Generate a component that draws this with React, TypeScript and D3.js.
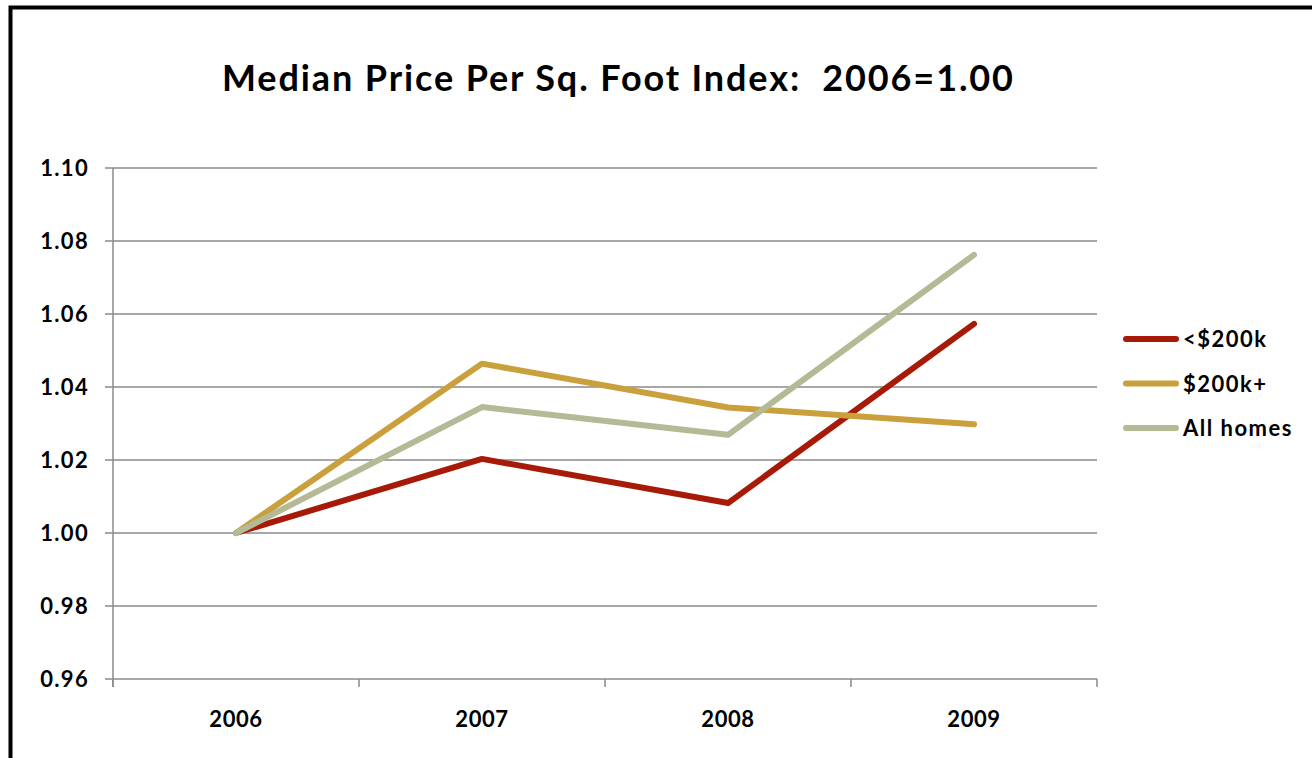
import React from 'react';
import * as d3 from 'd3';

// chart data
const years = ['2006', '2007', '2008', '2009'];
const under200k = [1.0, 1.0203, 1.0082, 1.0573];
const over200k = [1.0, 1.0464, 1.0344, 1.0298];
const allHomes = [1.0, 1.0345, 1.0269, 1.0762];
const yTicks = [0.96, 0.98, 1.0, 1.02, 1.04, 1.06, 1.08, 1.1];

const series = [
  { name: '<$200k', values: under200k, color: '#a81a08' },
  { name: '$200k+', values: over200k, color: '#c9a03c' },
  { name: 'All homes', values: allHomes, color: '#b4ba96' },
];

const W = 1312;
const H = 758;
const font = 'Lato, "Open Sans", sans-serif';

const App = () => {
  // plot area
  const left = 113;
  const right = 1097;
  const top = 168;
  const bottom = 679;

  const x = d3.scaleBand<string>().domain(years).range([left, right]);
  const y = d3.scaleLinear().domain([0.96, 1.1]).range([bottom, top]);

  const line = d3
    .line<number>()
    .x((_, i) => (x(years[i]) as number) + x.bandwidth() / 2)
    .y(d => y(d));

  const bounds = [left, ...years.map(yr => (x(yr) as number) + x.bandwidth())];

  return (
    <svg
      width={W}
      height={H}
      style={{ position: 'absolute', left: 0, top: 0, background: '#fff' }}
    >
      {/* frame */}
      <rect x={10.5} y={7.5} width={W + 20} height={H + 20} fill="none" stroke="#000" strokeWidth={4} />

      <text
        x={222}
        y={91}
        textLength={791}
        lengthAdjust="spacing"
        fontFamily={font}
        fontWeight={700}
        fontSize={36}
        fill="#000"
      >
        Median Price Per Sq. Foot Index:{'\u00a0\u00a0'}2006=1.00
      </text>

      {/* grid + y ticks */}
      {yTicks.map(t => (
        <g key={t}>
          <line x1={105} x2={right} y1={y(t)} y2={y(t)} stroke="#8a8a8a" strokeWidth={1.5} />
          <text
            x={89}
            y={y(t) + 8}
            textAnchor="end"
            fontFamily={font}
            fontWeight={700}
            fontSize={22}
            letterSpacing={1.3}
            fill="#000"
          >
            {t.toFixed(2)}
          </text>
        </g>
      ))}

      {/* y axis */}
      <line x1={left} x2={left} y1={top} y2={bottom + 8} stroke="#8a8a8a" strokeWidth={1.5} />

      {/* x ticks */}
      {bounds.map((b, i) => (
        <line key={i} x1={b} x2={b} y1={bottom} y2={bottom + 8} stroke="#8a8a8a" strokeWidth={1.5} />
      ))}
      {years.map(yr => (
        <text
          key={yr}
          x={(x(yr) as number) + x.bandwidth() / 2}
          y={727}
          textAnchor="middle"
          fontFamily={font}
          fontWeight={700}
          fontSize={22}
          letterSpacing={0.6}
          fill="#000"
        >
          {yr}
        </text>
      ))}

      {/* lines */}
      {series.map(s => (
        <path
          key={s.name}
          d={line(s.values) as string}
          fill="none"
          stroke={s.color}
          strokeWidth={6}
          strokeLinejoin="round"
          strokeLinecap="round"
        />
      ))}

      {/* legend */}
      {series.map((s, i) => {
        const ly = 339 + i * 44.5;
        return (
          <g key={s.name}>
            <line x1={1126} x2={1176} y1={ly} y2={ly} stroke={s.color} strokeWidth={6} strokeLinecap="round" />
            <text
              x={1183}
              y={ly + 8}
              fontFamily={font}
              fontWeight={700}
              fontSize={22}
              letterSpacing={1.5}
              fill="#000"
            >
              {s.name}
            </text>
          </g>
        );
      })}
    </svg>
  );
};

export default App;
